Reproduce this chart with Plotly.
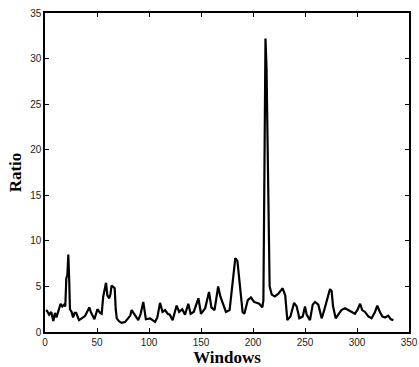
import plotly.graph_objects as go

windows = [1, 2, 4, 6, 8, 9.6, 11, 13.5, 15, 16.6, 18.3, 19.5, 20.5, 21.5, 22.4, 23.2, 24,
           25.6, 27, 28.5, 30, 32.7, 35, 38.5, 42.6, 44, 47.5, 50.4, 53, 54.5, 56, 57.5,
           58.7, 60, 61.8, 63, 64, 65, 67, 68, 69, 71, 73.6, 77, 80, 82, 83.3, 86, 89.7,
           92, 94.5, 97, 101, 105.8, 108, 110.6, 113, 115.4, 118, 120, 122.7, 126.6, 129,
           132, 134.6, 137.8, 140, 143, 147.5, 150, 154, 157.7, 160, 163, 166.5, 168.6,
           171, 174, 177.5, 179, 180.8, 183, 185, 187.6, 190, 191.7, 195, 198, 201, 206,
           209, 210, 211, 212, 213, 214, 215, 216, 218, 221, 224.4, 228.5, 231, 233, 236,
           239.5, 242, 244.6, 247.8, 250, 251.6, 254.8, 257.4, 259.6, 262.8, 266, 268,
           271.4, 274, 275.6, 277, 279.5, 282, 285, 288.5, 291.6, 294.8, 298, 300.3, 303,
           305, 307.7, 310.9, 314, 317.3, 319.5, 322, 324.5, 327, 330, 332.5, 335]

ratio = [2.4, 2.3, 1.9, 2.2, 1.2, 2.1, 1.6, 2.7, 3.1, 2.8, 3.0, 2.8, 5.9, 6.2, 8.5, 6.0, 2.5,
         2.2, 1.6, 2.1, 2.1, 1.3, 1.5, 1.75, 2.7, 2.2, 1.4, 2.5, 2.1, 2.0, 3.9, 4.6,
         5.4, 4.0, 3.7, 4.2, 5.1, 5.0, 4.8, 2.5, 1.5, 1.2, 1.0, 1.1, 1.5, 1.8, 2.4, 1.9, 1.3,
         2.0, 3.3, 1.4, 1.5, 1.1, 1.6, 3.2, 2.2, 2.4, 2.0, 1.9, 1.3, 2.9, 2.2,
         2.5, 1.9, 3.1, 2.0, 2.2, 3.7, 2.0, 2.6, 4.4, 2.7, 2.4, 5.0, 3.9,
         3.2, 2.2, 2.4, 4.0, 6.4, 8.1, 7.8, 5.0, 2.2, 2.0, 3.5, 3.8, 3.3, 3.1,
         2.7, 3.5, 20.0, 32.2, 29.0, 20.0, 9.0, 5.0, 4.1, 3.9, 4.2, 4.8, 4.0, 1.3, 1.7,
         3.2, 2.8, 1.5, 1.7, 2.8, 1.9, 1.3, 3.0, 3.3, 3.0, 1.5, 2.2,
         3.7, 4.7, 4.5, 2.8, 1.5, 1.9, 2.4, 2.6, 2.4, 2.2, 2.0, 2.4, 3.1,
         2.4, 2.2, 1.7, 1.5, 2.2, 2.9, 2.2, 1.7, 1.6, 1.8, 1.4, 1.3]

x_ticks = [0, 50, 100, 150, 200, 250, 300, 350]
y_ticks = [0, 5, 10, 15, 20, 25, 30, 35]

fig = go.Figure()
fig.add_trace(go.Scatter(x=windows, y=ratio, mode="lines",
                         line=dict(color="black", width=2.2), showlegend=False))

axis_common = dict(
    showgrid=False, zeroline=False, showline=True, linecolor="black", linewidth=1.5,
    mirror="ticks", ticks="inside", ticklen=4, tickcolor="black", tickwidth=1,
    automargin=False,
    tickfont=dict(family="Liberation Sans, Arial, sans-serif", size=10, color="#222222"),
)

fig.update_layout(
    width=419, height=367,
    margin=dict(l=45, r=10, t=13, b=35),
    paper_bgcolor="white", plot_bgcolor="white",
    xaxis=dict(range=[0, 350], tickvals=x_ticks, ticktext=[str(v) for v in x_ticks],
               title=dict(text="<b>Windows</b>", standoff=2,
                          font=dict(family="Liberation Serif, Times New Roman, serif",
                                    size=17, color="black")),
               **axis_common),
    yaxis=dict(range=[0, 35], tickvals=y_ticks, ticktext=[str(v) for v in y_ticks],
               title=dict(text="<b>Ratio</b>", standoff=4,
                          font=dict(family="Liberation Serif, Times New Roman, serif",
                                    size=17, color="black")),
               **axis_common),
)

fig.write_html("out.html")
